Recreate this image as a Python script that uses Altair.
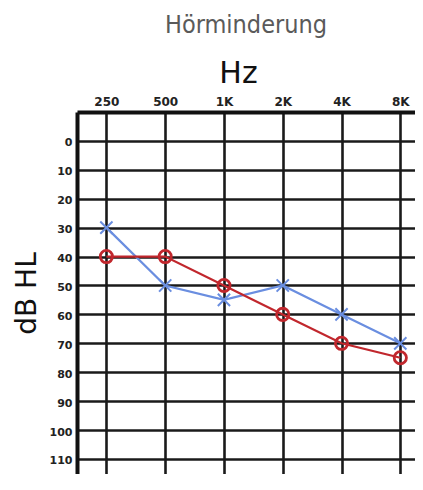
import altair as alt
import pandas as pd

freq_labels = ["250", "500", "1K", "2K", "4K", "8K"]
blue_x = [30, 50, 55, 50, 60, 70]
red_o = [40, 40, 50, 60, 70, 75]
y_ticks = [0, 10, 20, 30, 40, 50, 60, 70, 80, 90, 100, 110]

rows = []
for i, lab in enumerate(freq_labels):
    rows.append({"idx": i, "freq": lab, "db": blue_x[i], "ear": "X"})
    rows.append({"idx": i, "freq": lab, "db": red_o[i], "ear": "O"})
df = pd.DataFrame(rows)

label_map = "{" + ",".join(f"'{i}':'{l}'" for i, l in enumerate(freq_labels)) + "}"

x_enc = alt.X(
    "idx:Q",
    scale=alt.Scale(domain=[-0.5, 5.25], nice=False, zero=False),
    axis=alt.Axis(
        orient="top",
        values=list(range(len(freq_labels))),
        tickCount=20,
        labelExpr=f"{label_map}[datum.value]",
        labelOverlap=False,
        labelFlush=False,
        title="Hz",
        titleFont="DejaVu Sans",
        titleFontSize=30,
        titleFontWeight="normal",
        titleColor="#111",
        titleX=161,
        titleY=-30,
        titleAlign="center",
        titleBaseline="alphabetic",
        labelFont="DejaVu Sans",
        labelFontWeight="bold",
        labelFontSize=12,
        labelColor="#222",
        labelPadding=4,
        ticks=False,
        domain=True,
        domainColor="#111",
        domainWidth=4,
        grid=True,
        gridColor="#1a1a1a",
        gridWidth=2.6,
        gridOpacity=1,
    ),
)

y_enc = alt.Y(
    "db:Q",
    scale=alt.Scale(domain=[-10, 115.2], reverse=True, nice=False, zero=False),
    axis=alt.Axis(
        orient="left",
        values=y_ticks,
        tickCount=30,
        labelOverlap=False,
        title="dB HL",
        titleFont="DejaVu Sans",
        titleFontSize=28,
        titleFontWeight="normal",
        titleColor="#111",
        titleAngle=270,
        titleX=-50,
        titleY=181,
        titleAlign="center",
        titleBaseline="middle",
        labelFont="DejaVu Sans",
        labelFontWeight="bold",
        labelFontSize=11,
        labelColor="#222",
        labelPadding=5,
        labelOffset=2,
        ticks=False,
        domain=True,
        domainColor="#111",
        domainWidth=4,
        grid=True,
        gridColor="#1a1a1a",
        gridWidth=2.6,
        gridOpacity=1,
    ),
)

color_scale = alt.Scale(domain=["X", "O"], range=["#6a8ee0", "#c1272d"])

base = alt.Chart(df).encode(
    x=x_enc,
    y=y_enc,
    color=alt.Color("ear:N", scale=color_scale, legend=None),
)

lines = base.mark_line(strokeWidth=2.2, clip=True).encode(detail="ear:N")

crosses = base.transform_filter(alt.datum.ear == "X").mark_point(
    shape="M-1,-1L1,1M1,-1L-1,1",
    size=150,
    strokeWidth=2,
    filled=False,
    opacity=1,
)

circles = base.transform_filter(alt.datum.ear == "O").mark_point(
    shape="circle",
    size=150,
    strokeWidth=2.8,
    filled=False,
    opacity=1,
)

chart = (
    alt.layer(lines, crosses, circles)
    .properties(
        width=338,
        height=362,
        autosize=alt.AutoSizeParams(type="none"),
        padding={"left": 69, "top": 104, "right": 0, "bottom": 0},
        title=alt.TitleParams(
            "Hörminderung",
            font="Liberation Sans Narrow, DejaVu Sans Condensed, sans-serif",
            fontSize=25,
            fontWeight="normal",
            color="#5a5a5a",
            anchor="middle",
            offset=20,
        ),
    )
    .configure_view(strokeWidth=0, strokeOpacity=0)
    .configure_axisRight(domain=False, grid=False, labels=False, ticks=False)
    .configure_axisBottom(domain=False, grid=False, labels=False, ticks=False)
    .configure(background="white")
)

chart.save("out.html", embed_options={"renderer": "svg", "actions": False})
